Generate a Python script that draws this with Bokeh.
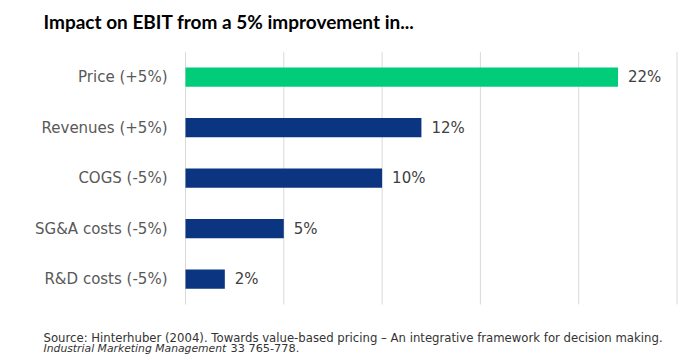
from bokeh.plotting import figure
from bokeh.models import ColumnDataSource, Label, Range1d
from bokeh.embed import file_html
from bokeh.resources import INLINE

categories = ["Price (+5%)", "Revenues (+5%)", "COGS (-5%)", "SG&A costs (-5%)", "R&D costs (-5%)"]
values = [22, 12, 10, 5, 2]
value_labels = ["22%", "12%", "10%", "5%", "2%"]
colors = ["#00CC7A", "#0B3580", "#0B3580", "#0B3580", "#0B3580"]
x_ticks = [0, 5, 10, 15, 20, 25]

title_text = "Impact on EBIT from a 5% improvement in..."
source_line1 = "Source: Hinterhuber (2004). Towards value-based pricing \u2013 An integrative framework for decision making."
source_line2a = "Industrial Marketing Management"
source_line2b = "33 765-778."

W, H = 692, 356
ZERO_PX = 185.0      # x pixel of 0%
PX_PER_UNIT = 19.66  # pixels per 1%
ROW_PX = 50.5
FIRST_ROW_PX = 76.7

pos = list(range(len(categories)))
src = ColumnDataSource(dict(cat=categories, pos=pos, val=values, lab=value_labels, col=colors))
grid = ColumnDataSource(dict(x=x_ticks, y0=[-0.5] * len(x_ticks), y1=[len(categories) - 0.5] * len(x_ticks)))

x_range = Range1d(-ZERO_PX / PX_PER_UNIT, (W - ZERO_PX) / PX_PER_UNIT)
y_range = Range1d((H - FIRST_ROW_PX) / ROW_PX, -FIRST_ROW_PX / ROW_PX)

p = figure(width=W, height=H, output_backend="svg", toolbar_location=None,
           x_range=x_range, y_range=y_range,
           min_border=0, min_border_left=0, min_border_right=0,
           min_border_top=0, min_border_bottom=0)
p.axis.visible = False
p.grid.visible = False
p.outline_line_color = None

p.segment(x0="x", x1="x", y0="y0", y1="y1", source=grid, line_color="#D9D9D9", line_width=1)
p.hbar(y="pos", right="val", left=0, height=0.38, color="col", source=src, line_color=None)
p.text(x="val", y="pos", text="lab", source=src, x_offset=10,
       text_baseline="middle", text_align="left", text_font_size="15px",
       text_color="#404040", text_font={"value": "DejaVu Sans"})
p.text(x=0, y="pos", text="cat", source=src, x_offset=-18,
       text_baseline="middle", text_align="right", text_font_size="15px",
       text_color="#595959", text_font={"value": "DejaVu Sans"})

p.add_layout(Label(x=43, y=H - 21, x_units="screen", y_units="screen",
                   text=title_text, text_font="Lato", text_font_style="bold",
                   text_font_size="19px", text_color="#000000", text_baseline="alphabetic"))
p.add_layout(Label(x=43, y=H - 337, x_units="screen", y_units="screen",
                   text=source_line1, text_font="DejaVu Sans",
                   text_font_size="11.7px", text_color="#333333", text_baseline="alphabetic"))
p.add_layout(Label(x=43, y=H - 348, x_units="screen", y_units="screen",
                   text=source_line2a, text_font="DejaVu Sans", text_font_style="italic",
                   text_font_size="10.8px", text_color="#333333", text_baseline="alphabetic"))
p.add_layout(Label(x=230, y=H - 348, x_units="screen", y_units="screen",
                   text=source_line2b, text_font="DejaVu Sans",
                   text_font_size="11.3px", text_color="#333333", text_baseline="alphabetic"))

open("out.html", "w").write(file_html(p, INLINE))
